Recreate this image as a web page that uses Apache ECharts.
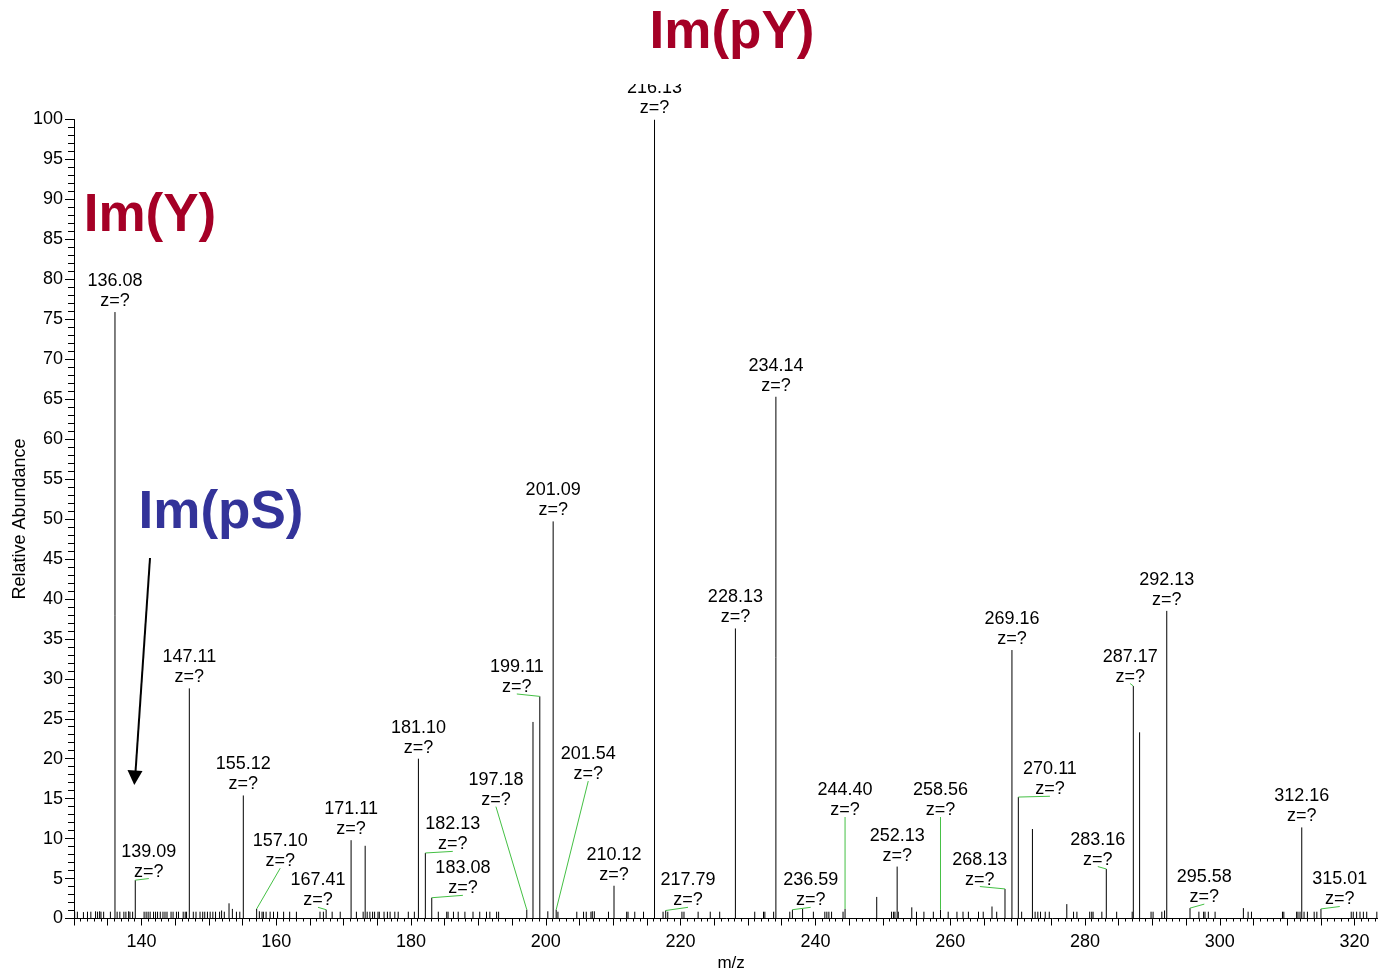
<!DOCTYPE html>
<html>
<head>
<meta charset="utf-8">
<script src="https://cdn.jsdelivr.net/npm/echarts@6/dist/echarts.min.js"></script>
<style>
html,body{margin:0;padding:0;background:#fff;}
#chart{width:1378px;height:976px;}
</style>
</head>
<body>
<div id="chart"></div>
<script>
// ---- data ----
const xTitle = 'm/z';
const yTitle = 'Relative Abundance';
const annotations = ['Im(pY)', 'Im(Y)', 'Im(pS)'];

// main peaks [m/z, relative abundance]
const mainPeaks = [
  [136.08,75.9],[139.09,4.8],[147.11,28.8],[153.0,1.9],[153.5,1.2],[155.12,15.4],[157.10,1.2],
  [167.41,1.1],[171.11,9.8],[173.2,9.1],[181.10,20.0],[182.13,8.2],[183.08,2.6],
  [197.18,1.1],[198.1,24.6],[199.11,27.8],[200.3,0.9],[201.09,49.7],[201.54,1.1],
  [210.12,4.1],[216.13,100],[217.79,1.0],[228.13,36.3],[234.14,65.3],[236.59,1.1],
  [238.1,1.2],[244.40,1.2],[249.1,2.7],[252.13,6.5],[254.3,1.4],[258.56,1.1],[266.2,1.5],
  [268.13,3.7],[269.16,33.6],[270.11,15.2],[272.2,11.2],[277.3,1.8],[283.16,6.2],
  [287.17,29.1],[288.1,23.3],[292.13,38.5],[295.58,1.3],[303.5,1.3],[312.16,11.4],[315.01,1.2]
];

// small noise peaks [m/z, relative abundance]
const noisePeaks = [
  [130.1,0.85],[130.5,0.85],[131.4,0.8],[132.0,0.85],[132.5,0.85],[133.2,0.9],[133.5,0.85],[133.8,0.9],[134.0,0.85],[134.4,0.85],
  [135.4,0.85],[136.4,0.85],[136.8,0.85],[137.4,0.85],[137.7,0.85],[138.1,0.9],[138.3,0.85],[138.7,0.85],
  [140.4,0.85],[140.7,0.85],[141.0,0.85],[141.3,0.85],[141.8,0.85],[142.1,0.85],[142.4,0.85],[142.8,0.85],
  [143.2,0.85],[143.5,0.85],[143.8,0.85],[144.4,0.85],[144.7,0.85],[145.2,0.85],[145.5,0.85],[146.2,0.85],
  [146.5,0.85],[146.7,0.85],[147.7,0.85],[148.1,0.85],[148.7,0.85],[149.1,0.85],[149.4,0.85],[149.8,0.85],
  [150.2,0.85],[150.6,0.85],[151.0,0.85],[151.6,0.85],[151.9,1.0],[152.3,0.85],[154.1,0.85],[154.6,0.85],
  [157.5,0.9],[157.9,0.85],[158.1,0.85],[158.5,0.85],[159.1,0.85],[159.6,0.85],[160.2,0.85],[161.1,0.85],
  [162.0,0.85],[163.0,0.85],[166.5,0.85],[167.0,0.85],[168.3,0.85],[169.5,0.85],[171.9,0.85],[172.9,0.85],
  [173.5,0.85],[173.9,0.85],[174.3,0.85],[174.6,0.85],[175.1,0.85],[175.3,0.85],[176.0,0.85],[176.5,0.85],
  [176.9,0.85],[177.6,0.85],[178.1,0.85],[179.6,0.85],[180.5,0.85],[184.05,0.85],[185.3,0.85],[185.5,0.85],
  [186.3,0.85],[187.0,0.85],[188.0,0.85],[189.2,0.85],[190.2,0.85],[191.2,0.85],[191.7,0.85],[192.7,0.85],
  [193.0,0.85],[201.8,0.85],[204.6,0.85],[205.6,0.85],[206.0,0.85],[206.7,0.85],[206.9,0.9],[207.2,0.9],
  [209.3,0.85],[212.0,0.85],[212.2,0.85],[213.2,0.85],[214.5,0.85],[217.4,0.85],[218.1,0.85],[220.2,0.85],
  [220.5,0.85],[222.6,0.85],[224.4,0.85],[225.8,0.85],[231.0,0.85],[232.3,0.85],[232.5,0.85],[233.8,0.85],
  [236.2,0.85],[239.7,0.85],[241.4,0.85],[241.7,0.85],[242.0,0.85],[242.4,0.85],[244.1,0.85],[251.3,0.85],
  [251.6,0.85],[251.8,0.85],[252.3,0.85],[255.0,0.85],[256.1,0.85],[257.5,0.85],[259.7,0.85],[261.0,0.85],
  [261.9,0.85],[262.7,0.85],[264.2,0.85],[264.9,0.85],[266.9,0.85],[270.6,0.85],[272.6,0.85],[273.0,0.85],
  [273.4,0.85],[274.1,0.85],[274.7,0.85],[278.3,0.85],[278.8,0.85],[280.7,0.85],[281.0,0.85],[281.2,0.85],
  [282.5,0.85],[284.7,0.85],[287.0,0.85],[289.8,0.85],[290.1,0.85],[291.4,0.85],[291.8,1.0],[296.9,0.85],
  [297.6,0.85],[297.8,0.85],[298.3,0.85],[299.3,0.85],[304.2,0.85],[304.7,0.85],[309.3,0.85],[309.5,0.85],
  [311.4,0.85],[311.6,0.85],[311.9,0.85],[312.5,0.85],[313.0,0.85],[314.0,0.85],[314.4,0.85],[319.5,0.85],
  [319.8,0.85],[320.3,0.85],[320.8,0.85],[321.3,0.85],[321.8,0.85],[323.3,0.85]
];

// peaks that carry an m/z label
const labeledPeaks = [136.08,139.09,147.11,155.12,157.10,167.41,171.11,181.10,182.13,183.08,197.18,199.11,
  201.09,201.54,210.12,216.13,217.79,228.13,234.14,236.59,244.40,252.13,258.56,268.13,269.16,270.11,
  283.16,287.17,292.13,295.58,312.16,315.01];
const chargeText = 'z=?';

// layout: where displaced labels sit (label anchor [m/z, abundance]); leader lines join them to the peak
const labelPlacement = {
  '139.09':[141.1,5.0], '157.10':[160.6,6.3], '167.41':[166.2,1.4], '182.13':[186.2,8.4],
  '183.08':[187.7,2.9], '197.18':[192.6,14.0], '199.11':[195.7,28.1], '201.54':[206.3,17.2],
  '217.79':[221.1,1.4], '236.59':[239.3,1.4], '244.40':[244.4,12.7], '258.56':[258.56,12.7],
  '268.13':[264.4,4.0], '270.11':[274.8,15.3], '283.16':[281.9,6.5], '287.17':[286.7,29.4],
  '295.58':[297.7,1.8], '315.01':[317.8,1.5]
};

const allPeaks = mainPeaks.concat(noisePeaks);
const labelData = labeledPeaks.map(function (mz) {
  const pk = mainPeaks.find(function (p) { return Math.abs(p[0] - mz) < 1e-6; });
  const pl = labelPlacement[mz.toFixed(2)];
  return pl ? [mz, pk[1], pl[0], pl[1], 1] : [mz, pk[1], mz, pk[1], 0];
});

const FONT = '"Liberation Sans", Arial, sans-serif';
const chart = echarts.init(document.getElementById('chart'), null, {renderer: 'canvas'});

chart.setOption({
  backgroundColor: '#fff',
  animation: false,
  grid: {left: 74, width: 1314.3, top: 119.5, bottom: 57.5, containLabel: false, outerBoundsMode: 'none'},
  xAxis: {
    type: 'value', min: 130, max: 325, interval: 5,
    name: xTitle, nameLocation: 'middle', nameGap: 36, nameMoveOverlap: false,
    nameTextStyle: {fontSize: 17, fontFamily: FONT, color: '#000'},
    axisLine: {show: true, lineStyle: {color: '#000', width: 1}},
    axisTick: {show: true, length: 7, lineStyle: {color: '#000'}},
    minorTick: {show: true, splitNumber: 5, length: 3, lineStyle: {color: '#000'}},
    axisLabel: {fontSize: 18, fontFamily: FONT, color: '#000', margin: 15,
      formatter: function (v) { return (v % 20 === 0) ? String(v) : ''; }},
    splitLine: {show: false}
  },
  yAxis: {
    type: 'value', min: 0, max: 100, interval: 5,
    name: yTitle, nameLocation: 'middle', nameGap: 45, nameMoveOverlap: false,
    nameTextStyle: {fontSize: 18, fontFamily: FONT, color: '#000'},
    axisLine: {show: true, lineStyle: {color: '#000', width: 1}},
    axisTick: {show: true, length: 9, lineStyle: {color: '#000'}},
    minorTick: {show: true, splitNumber: 5, length: 6, lineStyle: {color: '#000'}},
    axisLabel: {fontSize: 18, fontFamily: FONT, color: '#000', margin: 11},
    splitLine: {show: false}
  },
  series: [
    {
      type: 'custom', name: 'peaks', data: allPeaks, encode: {x: 0, y: 1}, clip: true, z: 2,
      renderItem: function (params, api) {
        const p0 = api.coord([api.value(0), 0]);
        const p1 = api.coord([api.value(0), api.value(1)]);
        return {type: 'line', shape: {x1: p0[0], y1: p0[1], x2: p1[0], y2: p1[1]},
          style: {stroke: '#000', lineWidth: 1}};
      }
    },
    {
      type: 'custom', name: 'labels', data: labelData, encode: {x: 2, y: 3}, clip: false, z: 3,
      renderItem: function (params, api) {
        const mz = api.value(0), h = api.value(1);
        const lp = api.coord([api.value(2), api.value(3)]);
        const pp = api.coord([mz, h]);
        const leader = api.value(4) === 1;
        const children = [];
        if (leader) {
          children.push({type: 'line', shape: {x1: pp[0], y1: pp[1], x2: lp[0], y2: lp[1]},
            style: {stroke: '#44c044', lineWidth: 1}});
        }
        children.push({type: 'text', x: lp[0], y: leader ? lp[1] + 3 : lp[1] - 1,
          style: {text: mz.toFixed(2) + '\n' + chargeText, align: 'center', verticalAlign: 'bottom',
            fontSize: 18, fontFamily: FONT, lineHeight: 20, fill: '#000'}});
        return {type: 'group', children: children};
      }
    }
  ],
  graphic: [
    {type: 'rect', z: 100, shape: {x: 560, y: 0, width: 200, height: 84}, style: {fill: '#fff'}},
    {type: 'text', z: 101, x: 732, y: 33, style: {text: annotations[0], align: 'center', verticalAlign: 'middle',
      font: 'bold 53px ' + FONT, fill: '#a50026'}},
    {type: 'text', z: 101, x: 150, y: 216, style: {text: annotations[1], align: 'center', verticalAlign: 'middle',
      font: 'bold 53px ' + FONT, fill: '#a50026'}},
    {type: 'text', z: 101, x: 221, y: 513, style: {text: annotations[2], align: 'center', verticalAlign: 'middle',
      font: 'bold 53px ' + FONT, fill: '#333399'}},
    {type: 'line', z: 101, shape: {x1: 150, y1: 558, x2: 135.5, y2: 772}, style: {stroke: '#000', lineWidth: 2}},
    {type: 'polygon', z: 101, shape: {points: [[127.5, 770], [142.5, 771], [134.3, 785]]}, style: {fill: '#000'}}
  ]
});
</script>
</body>
</html>
